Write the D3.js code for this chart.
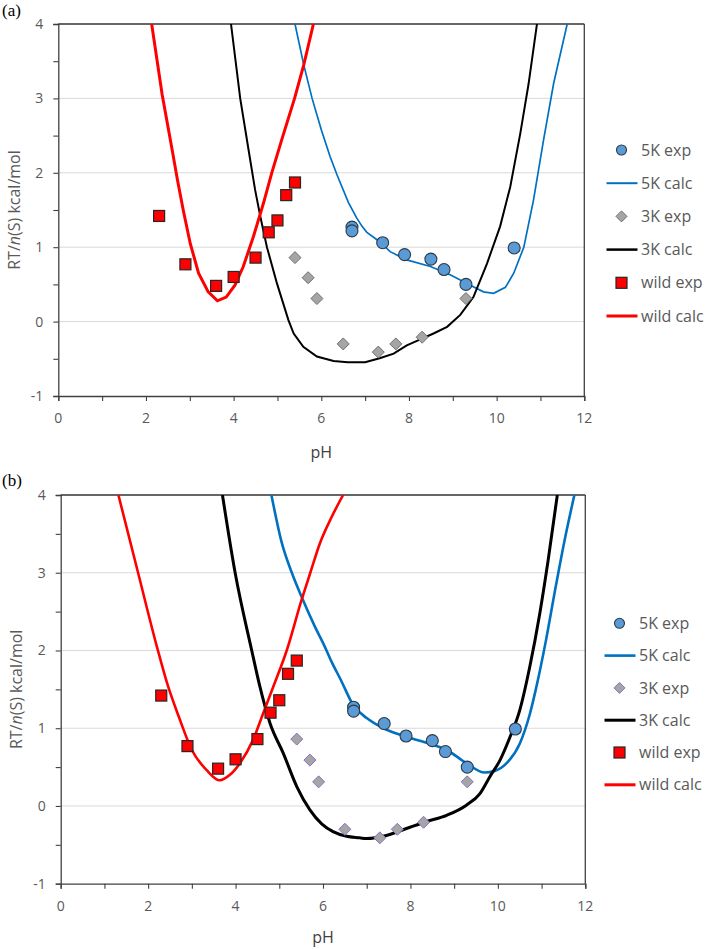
<!DOCTYPE html>
<html>
<head>
<meta charset="utf-8">
<script src="https://cdn.jsdelivr.net/npm/d3@7"></script>
<style>
  body { margin: 0; background: #fff; }
  svg { display: block; }
  text { font-family: "Open Sans", "Noto Sans", sans-serif; }
</style>
</head>
<body>
<svg id="chart" width="709" height="949"></svg>
<script>
// ---------- data ----------
const xTicks = [0, 2, 4, 6, 8, 10, 12];
const yTicks = [-1, 0, 1, 2, 3, 4];

const ph5Kexp = [6.7, 6.7, 7.4, 7.9, 8.5, 8.8, 9.3, 10.4];
const val5Kexp = [1.27, 1.22, 1.06, 0.90, 0.84, 0.70, 0.50, 0.99];
const ph3Kexp = [5.4, 5.7, 5.9, 6.5, 7.3, 7.7, 8.3, 9.3];
const val3Kexp = [0.86, 0.59, 0.31, -0.30, -0.41, -0.30, -0.21, 0.31];
const phWildExp = [2.3, 2.9, 3.6, 4.0, 4.5, 4.8, 5.0, 5.2, 5.4];
const valWildExp = [1.42, 0.77, 0.48, 0.60, 0.86, 1.20, 1.36, 1.70, 1.87];

// panel (a) calculated curves
const ph5KcalcA = [5.40, 5.6, 5.79, 6.0, 6.2, 6.36, 6.62, 6.8, 6.93, 7.04, 7.34, 7.57, 7.95, 8.49, 8.94, 9.40, 9.70, 9.93, 10.2, 10.39, 10.62, 10.84, 11.07, 11.30, 11.61];
const val5KcalcA = [4.0, 3.45, 3.0, 2.58, 2.22, 1.97, 1.6, 1.4, 1.28, 1.2, 1.07, 0.94, 0.83, 0.74, 0.63, 0.49, 0.40, 0.38, 0.46, 0.65, 1.0, 1.63, 2.44, 3.2, 4.0];
const ph3KcalcA = [3.94, 4.15, 4.34, 4.49, 4.61, 4.76, 4.99, 5.25, 5.37, 5.59, 5.9, 6.28, 6.6, 7.0, 7.35, 7.65, 7.95, 8.26, 8.56, 8.87, 9.17, 9.47, 9.78, 10.08, 10.31, 10.54, 10.73, 10.92];
const val3KcalcA = [4.0, 3.0, 2.31, 1.77, 1.41, 1.0, 0.51, 0.02, -0.16, -0.34, -0.47, -0.53, -0.545, -0.545, -0.49, -0.43, -0.32, -0.24, -0.16, -0.07, 0.09, 0.33, 0.78, 1.28, 1.81, 2.53, 3.2, 4.0];
const phWildCalcA = [2.13, 2.37, 2.6, 2.72, 2.85, 3.01, 3.2, 3.42, 3.63, 3.83, 4.03, 4.22, 4.45, 4.68, 4.87, 5.1, 5.39, 5.6, 5.82];
const valWildCalcA = [4.0, 3.05, 2.3, 1.9, 1.5, 1.05, 0.65, 0.40, 0.28, 0.33, 0.49, 0.74, 1.14, 1.59, 2.0, 2.45, 3.0, 3.45, 4.0];

// panel (b) calculated curves
const ph5KcalcB = [4.82, 5.05, 5.3, 5.51, 5.82, 6.04, 6.2, 6.4, 6.69, 7.0, 7.38, 7.91, 8.44, 8.83, 9.28, 9.70, 9.93, 10.20, 10.50, 10.73, 10.9, 11.1, 11.3, 11.52, 11.75];
const val5KcalcB = [4.0, 3.4, 2.98, 2.69, 2.3, 2.05, 1.85, 1.63, 1.3, 1.13, 1.0, 0.89, 0.80, 0.72, 0.55, 0.43, 0.45, 0.55, 0.80, 1.18, 1.58, 2.13, 2.75, 3.4, 4.0];
const ph3KcalcB = [3.70, 3.99, 4.37, 4.55, 4.79, 5.09, 5.40, 5.70, 5.97, 6.23, 6.54, 6.84, 7.0, 7.45, 7.91, 8.37, 8.83, 9.28, 9.59, 9.82, 10.05, 10.28, 10.50, 10.73, 10.96, 11.15, 11.36];
const val3KcalcB = [4.0, 3.0, 2.0, 1.55, 1.06, 0.68, 0.25, -0.05, -0.23, -0.33, -0.39, -0.41, -0.42, -0.38, -0.29, -0.20, -0.12, 0.01, 0.16, 0.38, 0.59, 0.89, 1.23, 1.79, 2.48, 3.16, 4.0];
const phWildCalcB = [1.32, 1.77, 2.2, 2.45, 2.7, 3.0, 3.34, 3.64, 3.87, 4.10, 4.40, 4.63, 4.86, 5.17, 5.51, 5.71, 5.93, 6.2, 6.46];
const valWildCalcB = [4.0, 3.0, 2.05, 1.55, 1.15, 0.72, 0.46, 0.33, 0.40, 0.55, 0.85, 1.19, 1.53, 2.0, 2.65, 3.0, 3.38, 3.72, 4.0];

const legendLabels = ["5K exp", "5K calc", "3K exp", "3K calc", "wild exp", "wild calc"];

// ---------- drawing ----------
const svg = d3.select("#chart");
const zip = (xs, ys) => xs.map((x, i) => [x, ys[i]]);

const panels = [
  {
    id: "a", tag: "(a)", tagY: 16,
    left: 58.3, right: 584.3, top: 24, bottom: 396,
    pHy: 458, ylabX: 20,
    diamondStroke: "#6f6f6f",
    w5: 1.7, w3: 2.0, wW: 3.0,
    c5: zip(ph5KcalcA, val5KcalcA), c3: zip(ph3KcalcA, val3KcalcA), cW: zip(phWildCalcA, valWildCalcA),
    curve: d3.curveLinear,
    legX: 621.5, legY0: 150, legDy: 33.2
  },
  {
    id: "b", tag: "(b)", tagY: 486,
    left: 60.7, right: 585.3, top: 495, bottom: 883.7,
    pHy: 943, ylabX: 22,
    diamondStroke: "#8a6fc0",
    w5: 2.6, w3: 3.0, wW: 2.6,
    c5: zip(ph5KcalcB, val5KcalcB), c3: zip(ph3KcalcB, val3KcalcB), cW: zip(phWildCalcB, valWildCalcB),
    curve: d3.curveMonotoneX,
    legX: 619.5, legY0: 623.3, legDy: 32.3
  }
];

const blueLine = "#0070C0", blueFill = "#5B9BD5", gray = "#595959";

panels.forEach(p => {
  const x = d3.scaleLinear().domain([0, 12]).range([p.left, p.right]);
  const y = d3.scaleLinear().domain([-1, 4]).range([p.bottom, p.top]);
  const g = svg.append("g");

  // panel tag
  svg.append("text").attr("x", 2).attr("y", p.tagY)
    .style("font-family", "'Liberation Serif', 'DejaVu Serif', serif")
    .style("font-size", "17px").attr("fill", "#000").text(p.tag);

  // gridlines
  g.append("g").selectAll("line").data(yTicks.filter(v => v > -1 && v < 4)).join("line")
    .attr("x1", p.left).attr("x2", p.right)
    .attr("y1", d => y(d)).attr("y2", d => y(d))
    .attr("stroke", "#d9d9d9").attr("stroke-width", 1);

  // axes
  const yAxis = d3.axisLeft(y).tickValues(d3.range(-1, 4.01, 0.5)).tickSize(5).tickFormat(() => "");
  const gy = g.append("g").attr("transform", `translate(${p.left},0)`).call(yAxis);
  gy.select(".domain").attr("stroke", "#404040").attr("stroke-width", 1.3);
  gy.selectAll(".tick line").attr("stroke", "#404040").attr("stroke-width", 1.1);

  const xAxis = d3.axisBottom(x).tickValues(d3.range(0, 12.01, 1)).tickSize(5).tickFormat(() => "");
  const gx = g.append("g").attr("transform", `translate(0,${p.bottom})`).call(xAxis);
  gx.select(".domain").attr("stroke", "#404040").attr("stroke-width", 1.3);
  gx.selectAll(".tick line").attr("stroke", "#404040").attr("stroke-width", 1.1);

  // top and right border
  g.append("line").attr("x1", p.left).attr("x2", p.right).attr("y1", p.top).attr("y2", p.top)
    .attr("stroke", "#333").attr("stroke-width", 1.3);
  g.append("line").attr("x1", p.right).attr("x2", p.right).attr("y1", p.top).attr("y2", p.bottom)
    .attr("stroke", "#404040").attr("stroke-width", 1.3);

  // tick labels
  g.append("g").selectAll("text").data(yTicks).join("text")
    .attr("x", p.left - 15).attr("y", d => y(d)).attr("dy", "0.35em")
    .attr("text-anchor", "end").attr("fill", gray).style("font-size", "14px")
    .text(d => d);
  g.append("g").selectAll("text").data(xTicks).join("text")
    .attr("x", d => x(d)).attr("y", p.bottom + 22).attr("dy", "0.35em")
    .attr("text-anchor", "middle").attr("fill", gray).style("font-size", "14px")
    .text(d => d);

  // axis titles
  g.append("text").attr("x", (p.left + p.right) / 2).attr("y", p.pHy)
    .attr("text-anchor", "middle").attr("fill", "#404040").style("font-size", "16px").text("pH");
  const yl = g.append("text")
    .attr("transform", `translate(${p.ylabX},${(p.top + p.bottom) / 2}) rotate(-90)`)
    .attr("text-anchor", "middle").attr("fill", gray).style("font-size", "16px");
  yl.append("tspan").text("RT/");
  yl.append("tspan").style("font-style", "italic").text("n");
  yl.append("tspan").text("(S) kcal/mol");

  // clip
  svg.append("clipPath").attr("id", "clip-" + p.id).append("rect")
    .attr("x", p.left).attr("y", p.top).attr("width", p.right - p.left).attr("height", p.bottom - p.top);
  const plot = g.append("g").attr("clip-path", `url(#clip-${p.id})`);

  const line = d3.line().x(d => x(d[0])).y(d => y(d[1])).curve(p.curve);
  plot.append("path").datum(p.c5).attr("d", line).attr("fill", "none")
    .attr("stroke", blueLine).attr("stroke-width", p.w5);
  plot.append("path").datum(p.c3).attr("d", line).attr("fill", "none")
    .attr("stroke", "#000").attr("stroke-width", p.w3);
  plot.append("path").datum(p.cW).attr("d", line).attr("fill", "none")
    .attr("stroke", "#ff0000").attr("stroke-width", p.wW);

  // markers
  const diamond = s => `M0,${-s}L${s},0L0,${s}L${-s},0Z`;
  g.append("g").selectAll("path").data(zip(ph3Kexp, val3Kexp)).join("path")
    .attr("transform", d => `translate(${x(d[0])},${y(d[1])})`)
    .attr("d", diamond(6)).attr("fill", "#a5a5a5")
    .attr("stroke", p.diamondStroke).attr("stroke-width", 1);
  g.append("g").selectAll("rect").data(zip(phWildExp, valWildExp)).join("rect")
    .attr("x", d => x(d[0]) - 5.5).attr("y", d => y(d[1]) - 5.5)
    .attr("width", 11).attr("height", 11)
    .attr("fill", "#ff0000").attr("stroke", "#262626").attr("stroke-width", 1.2);
  g.append("g").selectAll("circle").data(zip(ph5Kexp, val5Kexp)).join("circle")
    .attr("cx", d => x(d[0])).attr("cy", d => y(d[1])).attr("r", 6)
    .attr("fill", blueFill).attr("stroke", "#2b3a4a").attr("stroke-width", 1.1);

  // legend
  const leg = g.append("g");
  legendLabels.forEach((lab, i) => {
    const ly = p.legY0 + i * p.legDy;
    if (i === 0) {
      leg.append("circle").attr("cx", p.legX).attr("cy", ly).attr("r", 5)
        .attr("fill", blueFill).attr("stroke", "#2b3a4a").attr("stroke-width", 1.1);
    } else if (i === 2) {
      leg.append("path").attr("transform", `translate(${p.legX},${ly})`).attr("d", diamond(5.5))
        .attr("fill", "#a5a5a5").attr("stroke", p.diamondStroke).attr("stroke-width", 1);
    } else if (i === 4) {
      leg.append("rect").attr("x", p.legX - 5.5).attr("y", ly - 5.5).attr("width", 11).attr("height", 11)
        .attr("fill", "#ff0000").attr("stroke", "#262626").attr("stroke-width", 1.2);
    } else {
      const col = i === 1 ? blueLine : i === 3 ? "#000" : "#ff0000";
      const w = i === 1 ? Math.max(p.w5, 2) : i === 3 ? Math.max(p.w3, 2.5) : 3;
      leg.append("line").attr("x1", p.legX - 15).attr("x2", p.legX + 16)
        .attr("y1", ly).attr("y2", ly).attr("stroke", col).attr("stroke-width", w);
    }
    leg.append("text").attr("x", p.legX + 19.5).attr("y", ly).attr("dy", "0.35em")
      .attr("fill", gray).style("font-size", "16px").text(lab);
  });
});
</script>
</body>
</html>
